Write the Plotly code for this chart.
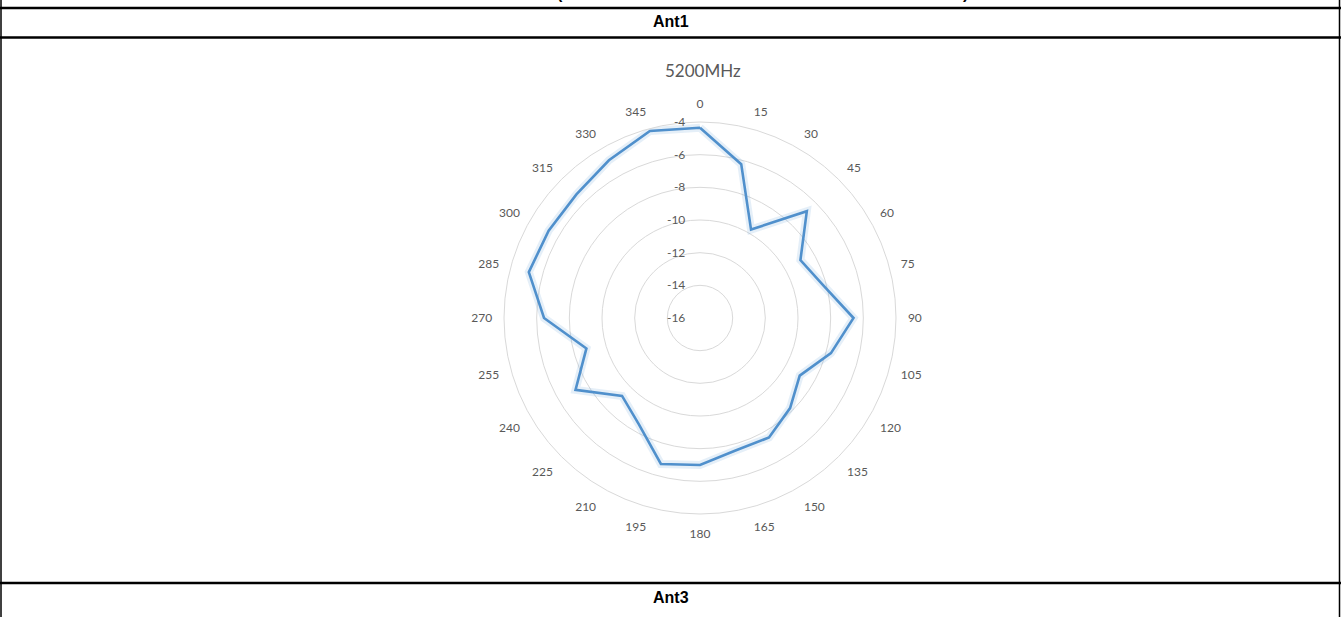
import plotly.graph_objects as go

# Antenna gain pattern, Ant1 @ 5200MHz (dBi), sampled every 15 degrees
angles = [0, 15, 30, 45, 60, 75, 90, 105, 120, 135, 150, 165,
          180, 195, 210, 225, 240, 255, 270, 285, 300, 315, 330, 345]
gain_5200 = [-4.35, -6.25, -9.75, -6.75, -8.9, -8.2, -6.6, -7.7, -8.95, -8.2, -7.55, -7.6,
             -7.0, -6.75, -8.5, -9.25, -7.2, -8.8, -6.45, -5.15, -5.3, -5.3, -4.85, -4.15]
radial_ticks = [-16, -14, -12, -10, -8, -6, -4]
chart_title = "5200MHz"
row_labels = ["Ant1", "Ant3"]

W, H = 1341, 617


def px(x):
    return x / W


def py(y):
    return 1 - y / H


fig = go.Figure()

# closed polygon
theta_closed = angles + [angles[0]]
r_closed = gain_5200 + [gain_5200[0]]

fig.add_trace(go.Scatterpolar(
    theta=theta_closed, r=r_closed, mode="lines",
    line=dict(color="rgba(91,155,213,0.16)", width=8),
    hoverinfo="skip", showlegend=False,
))
fig.add_trace(go.Scatterpolar(
    theta=theta_closed, r=r_closed, mode="lines",
    line=dict(color="#5090CC", width=2.6),
    name=chart_title, showlegend=False,
))

cx, cy, rad = 700, 318, 196
fig.update_layout(
    width=W, height=H,
    margin=dict(l=0, r=0, t=0, b=0),
    paper_bgcolor="white",
    plot_bgcolor="white",
    polar=dict(
        domain=dict(x=[px(cx - rad), px(cx + rad)], y=[py(cy + rad), py(cy - rad)]),
        bgcolor="white",
        angularaxis=dict(
            rotation=90, direction="clockwise",
            tickmode="array", tickvals=angles, ticktext=[str(a) for a in angles],
            showgrid=False, showline=True, linecolor="#D9D9D9", linewidth=1,
            ticks="outside", ticklen=9, tickcolor="rgba(0,0,0,0)",
            tickfont=dict(family="Lato, Liberation Sans, sans-serif", size=12, color="#595959"),
        ),
        radialaxis=dict(
            range=[-16, -4], tickmode="array", tickvals=radial_ticks,
            ticktext=[str(t) for t in radial_ticks],
            angle=90, tickangle=90, side="counterclockwise",
            showline=False, ticks="outside", ticklen=10, tickcolor="rgba(0,0,0,0)",
            showgrid=True, gridcolor="#D9D9D9", gridwidth=1,
            tickfont=dict(family="Lato, Liberation Sans, sans-serif", size=12, color="#595959"),
        ),
    ),
)

annotations = [
    dict(text=chart_title, x=px(703), y=py(71), xref="paper", yref="paper",
         showarrow=False, xanchor="center", yanchor="middle",
         font=dict(family="Lato, Liberation Sans, sans-serif", size=17, color="#595959")),
    dict(text="<b>" + row_labels[0] + "</b>", x=px(671), y=py(22), xref="paper", yref="paper",
         showarrow=False, xanchor="center", yanchor="middle",
         font=dict(family="Liberation Sans, Arial, sans-serif", size=16, color="black")),
    dict(text="<b>" + row_labels[1] + "</b>", x=px(671), y=py(597), xref="paper", yref="paper",
         showarrow=False, xanchor="center", yanchor="middle",
         font=dict(family="Liberation Sans, Arial, sans-serif", size=16, color="black")),
    dict(text="<b>(</b>", x=px(560), y=py(-6), xref="paper", yref="paper",
         showarrow=False, xanchor="center", yanchor="middle",
         font=dict(family="Liberation Sans, Arial, sans-serif", size=16, color="black")),
    dict(text="<b>)</b>", x=px(965), y=py(-6), xref="paper", yref="paper",
         showarrow=False, xanchor="center", yanchor="middle",
         font=dict(family="Liberation Sans, Arial, sans-serif", size=16, color="black")),
]
fig.update_layout(annotations=annotations)

# table rules around the rows
shapes = [
    dict(type="line", xref="paper", yref="paper", x0=0, x1=1, y0=py(8), y1=py(8), line=dict(color="black", width=2.5)),
    dict(type="line", xref="paper", yref="paper", x0=0, x1=1, y0=py(37.5), y1=py(37.5), line=dict(color="black", width=2.5)),
    dict(type="line", xref="paper", yref="paper", x0=0, x1=1, y0=py(583), y1=py(583), line=dict(color="black", width=2.5)),
    dict(type="line", xref="paper", yref="paper", x0=px(1), x1=px(1), y0=0, y1=1, line=dict(color="black", width=1.5)),
    dict(type="line", xref="paper", yref="paper", x0=px(1339.5), x1=px(1339.5), y0=0, y1=1, line=dict(color="black", width=1.5)),
]
fig.update_layout(shapes=shapes)

fig.write_html("out.html")
